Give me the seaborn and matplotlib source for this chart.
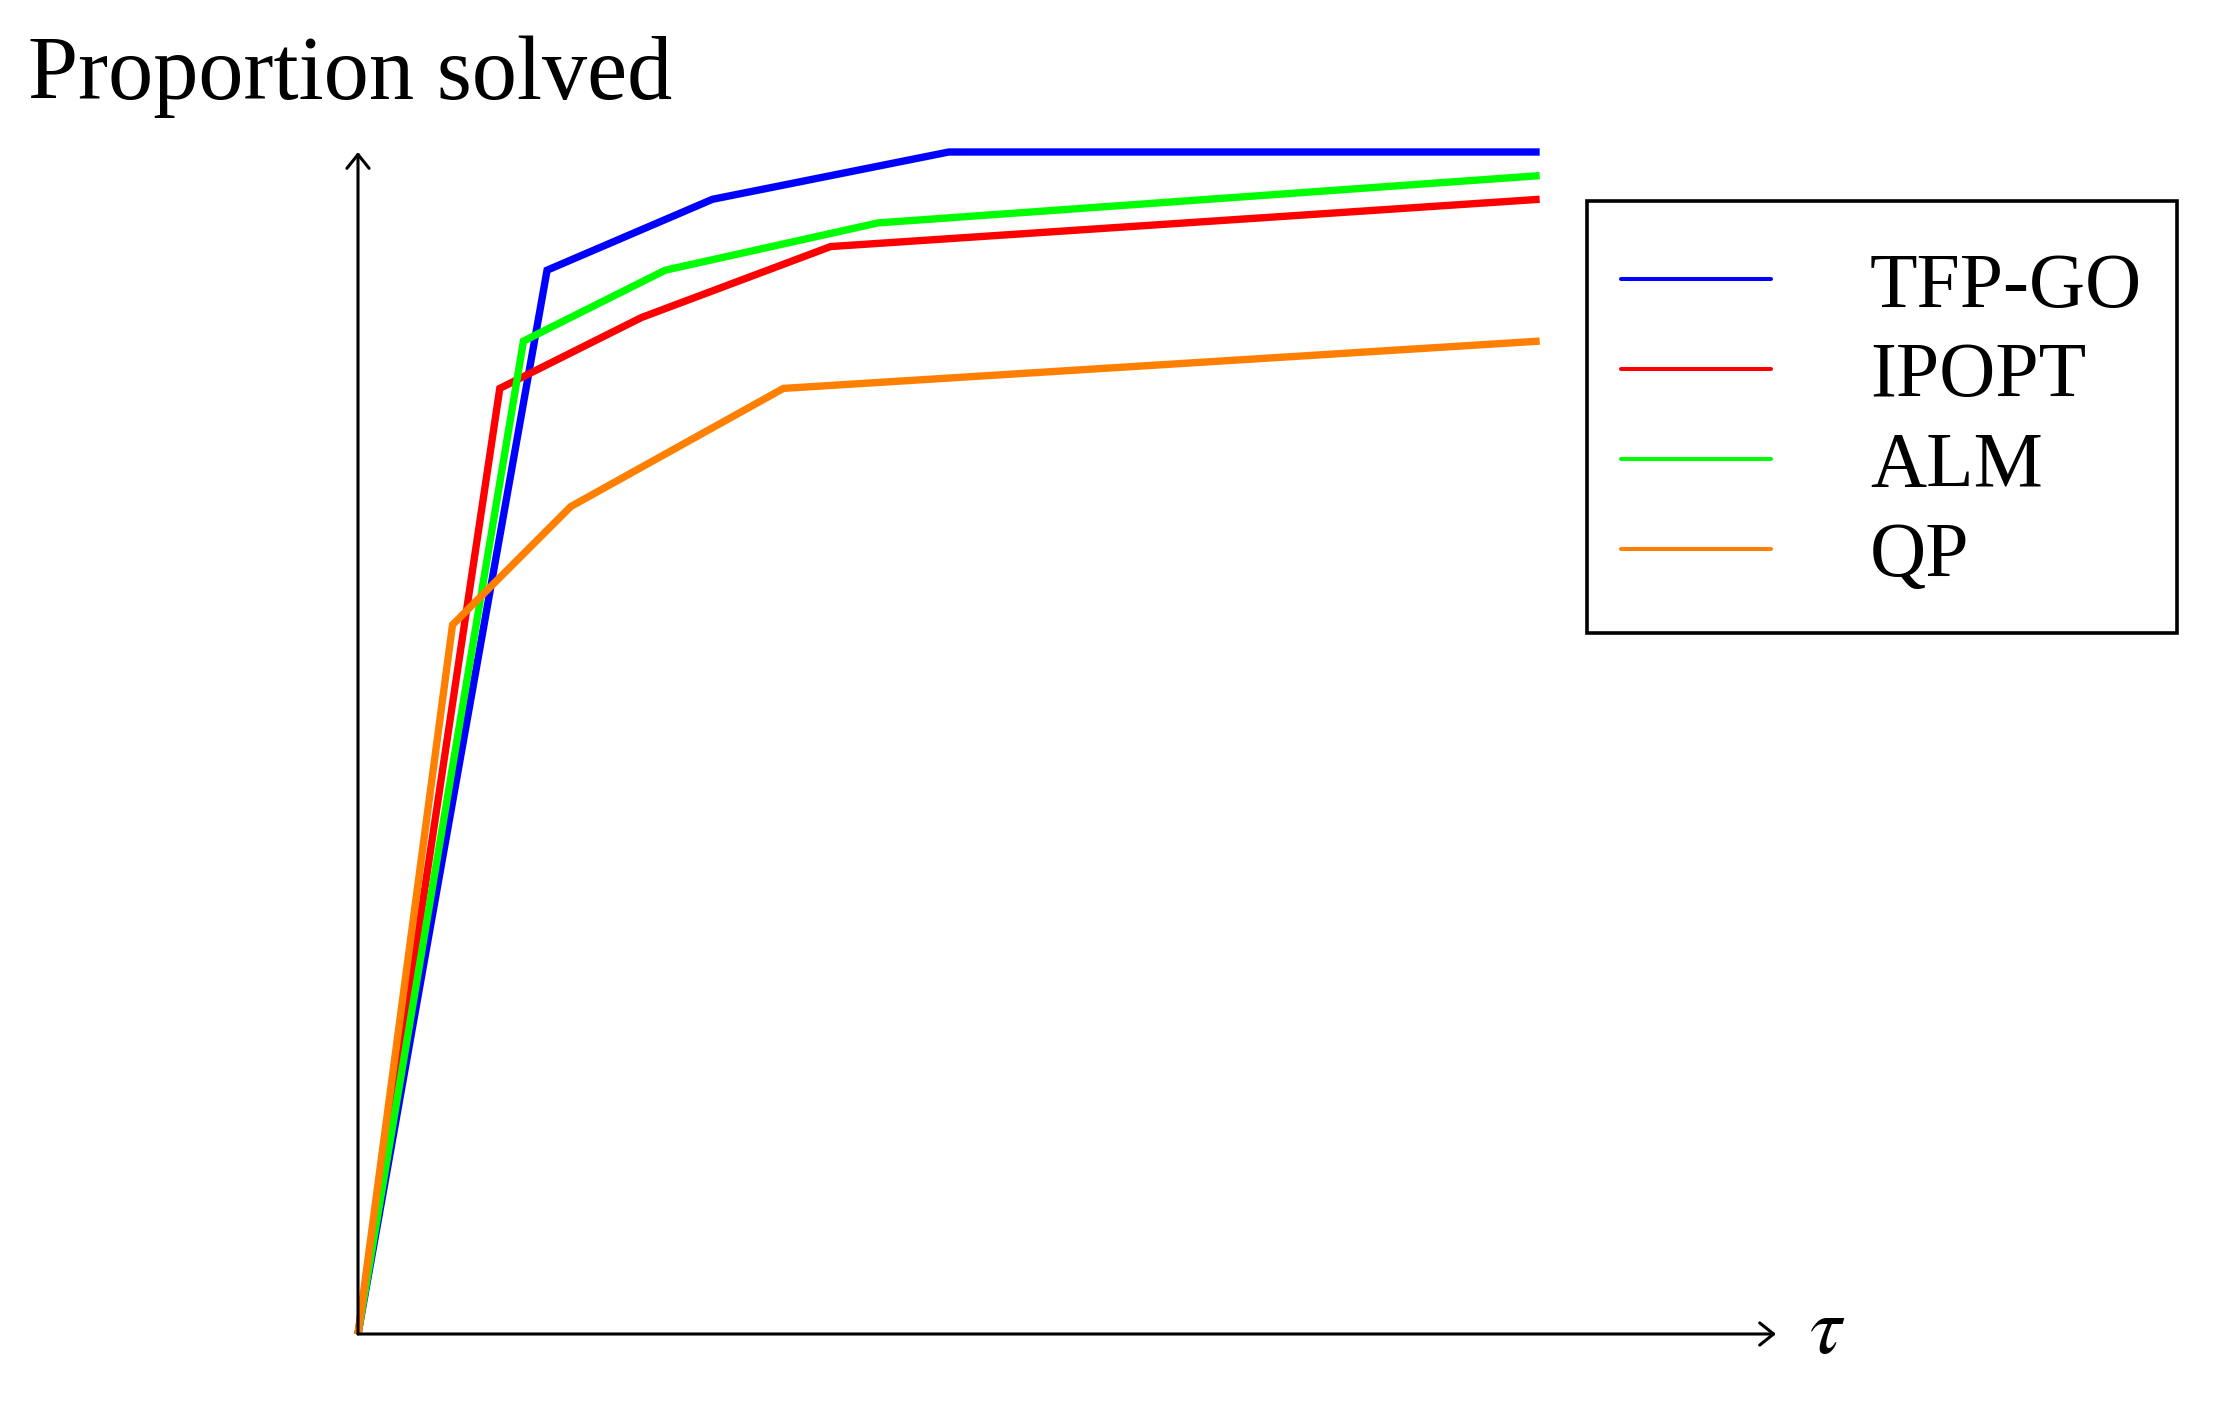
import pandas as pd
import matplotlib
matplotlib.use('Agg')
import matplotlib.pyplot as plt
from matplotlib.patches import Rectangle
import seaborn as sns

# performance profile data
solvers = ['TFP-GO', 'IPOPT', 'ALM', 'QP']
colors = ['#0000ff', '#ff0000', '#00ff00', '#ff8000']

tau_tfp = [0, 1.6, 3.0, 5.0, 10]
prop_tfp = [0, 0.90, 0.96, 1.00, 1.00]
tau_ipopt = [0, 1.2, 2.4, 4.0, 10]
prop_ipopt = [0, 0.80, 0.86, 0.92, 0.96]
tau_alm = [0, 1.4, 2.6, 4.4, 10]
prop_alm = [0, 0.84, 0.90, 0.94, 0.98]
tau_qp = [0, 0.8, 1.8, 3.6, 10]
prop_qp = [0, 0.60, 0.70, 0.80, 0.84]

tau_max = 12
prop_max = 1.0

frames = []
for name, t, p in zip(solvers,
                      [tau_tfp, tau_ipopt, tau_alm, tau_qp],
                      [prop_tfp, prop_ipopt, prop_alm, prop_qp]):
    frames.append(pd.DataFrame({'tau': t, 'prop': p, 'solver': name}))
df = pd.concat(frames, ignore_index=True)

sns.set_style('white')
plt.rcParams['font.family'] = ['Liberation Serif', 'DejaVu Serif']
plt.rcParams['mathtext.fontset'] = 'stix'
plt.rcParams['text.color'] = 'black'

W, H = 2217, 1401
fig = plt.figure(figsize=(W / 100, H / 100), dpi=100)
x0, y0, x1, y1 = 358, 1334, 1776, 152
ax = fig.add_axes([x0 / W, 1 - y0 / H, (x1 - x0) / W, (y0 - y1) / H])

sns.lineplot(data=df, x='tau', y='prop', hue='solver', hue_order=solvers,
             palette=dict(zip(solvers, colors)), sort=False, estimator=None,
             linewidth=5.3, ax=ax, legend=False)
for line in ax.lines:
    line.set_solid_joinstyle('miter')
    line.set_solid_capstyle('butt')
    line.set_clip_on(False)

ax.set_xlim(0, tau_max)
ax.set_ylim(0, prop_max)
for s in ax.spines.values():
    s.set_visible(False)
ax.set_xticks([])
ax.set_yticks([])
ax.set_xlabel('')
ax.set_ylabel('')
ax.patch.set_alpha(0)

# axes with arrow heads
arrow = dict(arrowstyle='->,head_length=0.5,head_width=0.4', lw=2.2,
             color='black', shrinkA=0, shrinkB=0, mutation_scale=20)
ax.annotate('', xy=(tau_max, 0), xytext=(0, 0), arrowprops=arrow,
            annotation_clip=False)
ax.annotate('', xy=(0, prop_max), xytext=(0, 0), arrowprops=arrow,
            annotation_clip=False)
ax.annotate(r'$\tau$', xy=(tau_max, 0), xytext=(24, 0),
            textcoords='offset points', fontsize=58, va='center', ha='left',
            annotation_clip=False)

fig.text(28 / W, 1 - 99 / H, 'Proportion solved', fontsize=65,
         ha='left', va='baseline')

# legend entries without frame, frame drawn separately
handles = [plt.Line2D([], [], color=c, lw=2.9) for c in colors]
leg = ax.legend(handles, solvers, loc='upper left',
                bbox_to_anchor=(1621 / W, 1 - 252 / H),
                bbox_transform=fig.transFigure, borderaxespad=0,
                fontsize=56, handlelength=1.93, handletextpad=1.27,
                borderpad=0, labelspacing=0.236, frameon=False)
fig.patches.append(Rectangle((1587 / W, 1 - 633 / H), 590 / W, 432 / H,
                             transform=fig.transFigure, fill=False,
                             edgecolor='black', linewidth=2.6))

fig.savefig('out.png', dpi=100)
